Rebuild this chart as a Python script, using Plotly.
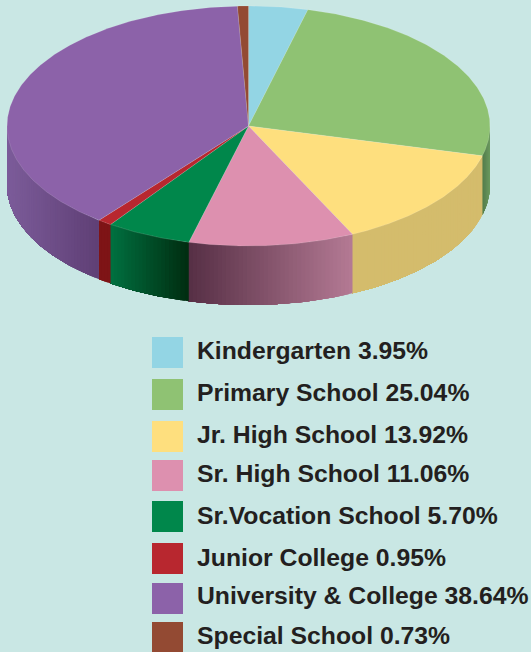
import math
import plotly.graph_objects as go

categories = ["Kindergarten", "Primary School", "Jr. High School", "Sr. High School",
              "Sr.Vocation School", "Junior College", "University & College", "Special School"]
shares = [3.95, 25.04, 13.92, 11.06, 5.70, 0.95, 38.64, 0.73]

top_colors = ["#93D5E4", "#8FC273", "#FEDF7E", "#DD90AF", "#00874B", "#B8272F", "#8C62A9", "#934A33"]
wall_left = ["#7FB8C5", "#527C4B", "#D4BC6C", "#562F45", "#007040", "#7E1416", "#7C5C9A", "#7A3A28"]
wall_right = ["#7FB8C5", "#6B9A5F", "#D4BC6C", "#B47A94", "#002C10", "#7E1416", "#5F3F75", "#7A3A28"]

BG = "#C9E7E4"
TEXT = "#231F20"
CX, CY, RX, RY, DEPTH = 248.5, 126, 241.5, 120, 59

swatch_x = (152, 183)
swatch_tops = [337, 379, 421, 460, 501, 543, 583, 622]
label_y = [350.5, 392, 434, 473, 515, 557, 595, 635]


def px(t):
    return CX + RX * math.sin(t), CY - RY * math.cos(t)


def mix(c1, c2, f):
    a = [int(c1[i:i + 2], 16) for i in (1, 3, 5)]
    b = [int(c2[i:i + 2], 16) for i in (1, 3, 5)]
    return "rgb(%d,%d,%d)" % tuple(round(p + (q - p) * f) for p, q in zip(a, b))


fig = go.Figure()
total = sum(shares)
edges = [0.0]
for s in shares:
    edges.append(edges[-1] + s / total * 2 * math.pi)

# side walls: only the front half of the rim is visible
for i in range(len(shares)):
    lo, hi = max(edges[i], math.pi / 2), min(edges[i + 1], 3 * math.pi / 2)
    if hi <= lo:
        continue
    n = max(1, math.ceil(math.degrees(hi - lo)))
    ts = [lo + (hi - lo) * k / n for k in range(n + 1)]
    xs_all = [px(t)[0] for t in ts]
    xmin, xmax = min(xs_all), max(xs_all)
    for k in range(n):
        # each strip runs to the end of the slice and the next one paints over it, so no seams show
        m = n - k
        arc = [ts[k] + (hi - ts[k]) * j / (m * 2) for j in range(m * 2 + 1)]
        pts = [px(t) for t in arc]
        xs = [p[0] for p in pts] + [p[0] for p in reversed(pts)] + [pts[0][0]]
        ys = [p[1] for p in pts] + [p[1] + DEPTH for p in reversed(pts)] + [pts[0][1]]
        f = ((xs_all[k] + xs_all[k + 1]) / 2 - xmin) / max(xmax - xmin, 1e-6)
        col = mix(wall_left[i], wall_right[i], f)
        fig.add_trace(go.Scatter(x=xs, y=ys, mode="lines", fill="toself", fillcolor=col,
                                 line=dict(color=col, width=0), hoverinfo="skip", showlegend=False))

# top face
for i in range(len(shares)):
    n = max(2, math.ceil(math.degrees(edges[i + 1] - edges[i]) * 2))
    pts = [px(edges[i] + (edges[i + 1] - edges[i]) * k / n) for k in range(n + 1)]
    xs = [CX] + [p[0] for p in pts] + [CX]
    ys = [CY] + [p[1] for p in pts] + [CY]
    fig.add_trace(go.Scatter(x=xs, y=ys, mode="lines", fill="toself", fillcolor=top_colors[i],
                             line=dict(color="rgba(255,255,255,0.25)", width=0.5),
                             name=categories[i], hoverinfo="name", showlegend=False))

# legend
for name, share, col, top, ly in zip(categories, shares, top_colors, swatch_tops, label_y):
    fig.add_shape(type="rect", xref="x", yref="y", x0=swatch_x[0], x1=swatch_x[1], y0=top, y1=top + 31,
                  fillcolor=col, line_width=0)
    fig.add_annotation(x=194.5, y=ly, xref="x", yref="y", xanchor="left", yanchor="middle", showarrow=False,
                       text=f"{name} {share:.2f}%",
                       font=dict(family="Liberation Sans", size=24.75, color=TEXT, weight=700))

fig.update_layout(
    width=531, height=652, autosize=False, margin=dict(l=0, r=0, t=0, b=0),
    paper_bgcolor=BG, plot_bgcolor=BG, showlegend=False,
    xaxis=dict(range=[0, 531], visible=False, fixedrange=True),
    yaxis=dict(range=[652, 0], visible=False, fixedrange=True),
)
fig.write_html("out.html", config={"displayModeBar": False},
               post_script="document.body.style.margin='0';document.body.style.overflow='hidden';"
                           "document.body.style.background='%s';" % BG)
